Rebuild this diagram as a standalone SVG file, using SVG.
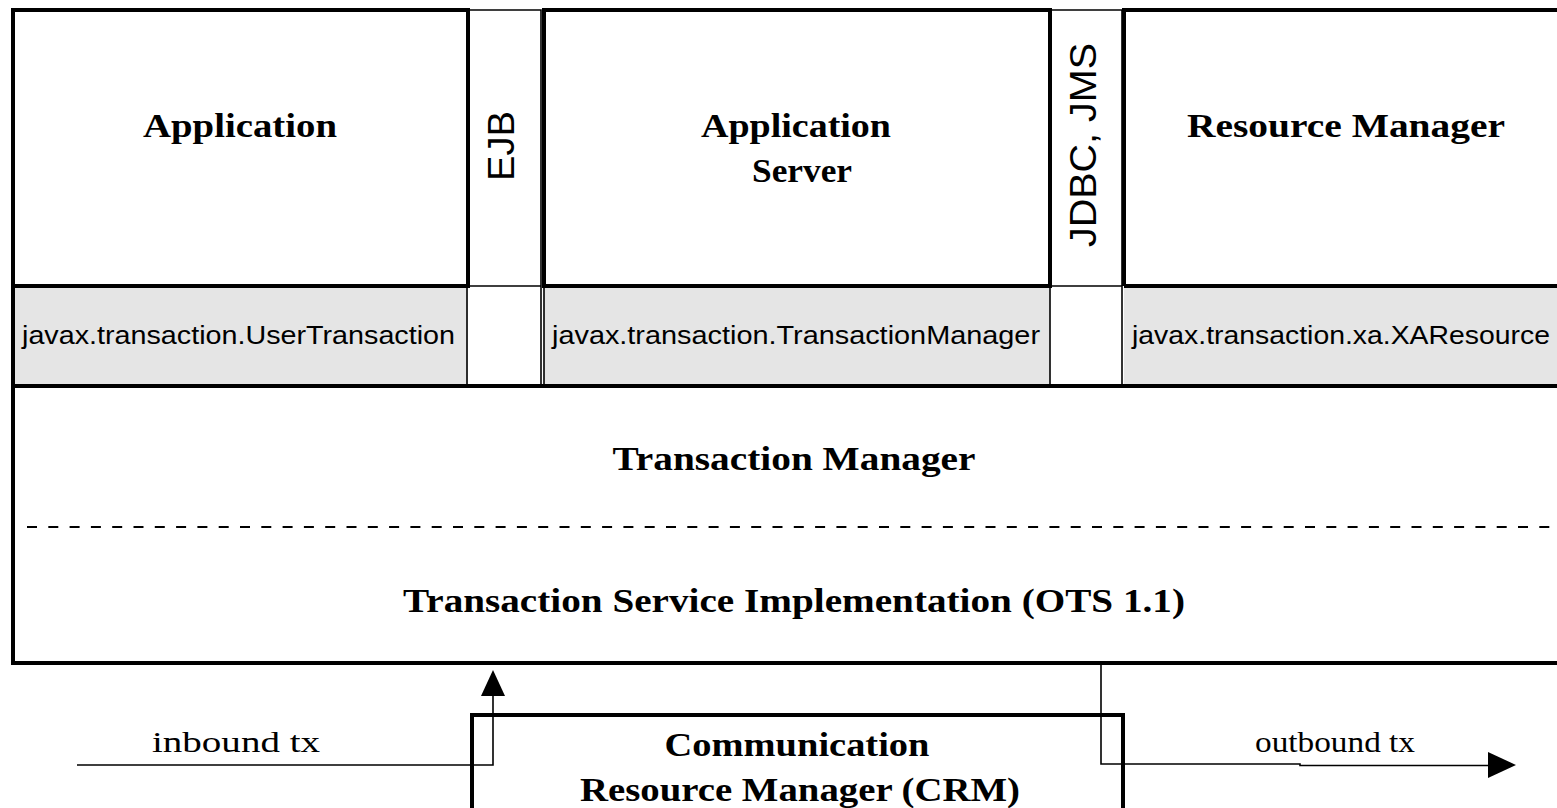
<svg xmlns="http://www.w3.org/2000/svg" width="1557" height="808" viewBox="0 0 1557 808">
<style>
.thick{fill:none;stroke:#000;stroke-width:4}
.thin{fill:none;stroke:#000;stroke-width:1.6}
.gray{fill:#e5e5e5;stroke:none}
.title{font-family:"Liberation Serif",serif;font-weight:bold;font-size:34px;text-anchor:middle;fill:#000}
.label{font-family:"Liberation Serif",serif;font-size:30px;text-anchor:middle;fill:#000}
.api{font-family:"Liberation Sans",sans-serif;font-size:25px;fill:#000}
.vert{font-family:"Liberation Sans",sans-serif;font-size:36px;fill:#000}
</style>
<rect x="0" y="0" width="1557" height="808" fill="#fff"/>

<g id="gray-row">
  <rect class="gray" x="13" y="286" width="455" height="99"/>
  <rect class="gray" x="544" y="286" width="506" height="99"/>
  <rect class="gray" x="1124" y="286" width="440" height="99"/>
</g>

<g id="application">
  <path class="thick" d="M13,10 H468 V286 H13 Z"/>
  <text class="title" x="240" y="137" textLength="194" lengthAdjust="spacingAndGlyphs">Application</text>
</g>

<g id="ejb">
  <path class="thin" d="M468,10 H541 V286 M468,286 H541"/>
  <text class="vert" transform="translate(514,181) rotate(-90)" textLength="70" lengthAdjust="spacingAndGlyphs">EJB</text>
</g>

<g id="application-server">
  <path class="thick" d="M544,10 H1050 V286 H544 Z"/>
  <text class="title" x="796" y="137" textLength="190" lengthAdjust="spacingAndGlyphs">Application</text>
  <text class="title" x="802" y="182" textLength="100" lengthAdjust="spacingAndGlyphs">Server</text>
</g>

<g id="jdbc-jms">
  <path class="thin" d="M1052,10 H1122 V286 M1050,286 H1122"/>
  <text class="vert" transform="translate(1096,247) rotate(-90)" textLength="204" lengthAdjust="spacingAndGlyphs">JDBC, JMS</text>
</g>

<g id="resource-manager">
  <path class="thick" d="M1124,286 V10 H1560 M1124,286 H1560"/>
  <text class="title" x="1346" y="137" textLength="318" lengthAdjust="spacingAndGlyphs">Resource Manager</text>
</g>

<g id="user-transaction">
  <path class="thin" d="M13,286 V385 M467,286 V385"/>
  <path class="thick" d="M13,286 V385"/>
  <text class="api" x="22" y="344" textLength="433" lengthAdjust="spacingAndGlyphs">javax.transaction.UserTransaction</text>
</g>

<g id="ejb-gap">
  <path class="thin" d="M541,286 V385"/>
</g>

<g id="transaction-manager-api">
  <path class="thin" d="M544,286 V385 M1050,286 V385"/>
  <text class="api" x="552" y="344" textLength="488" lengthAdjust="spacingAndGlyphs">javax.transaction.TransactionManager</text>
</g>

<g id="xa-resource">
  <path class="thin" d="M1122,286 V385"/>
  <text class="api" x="1132" y="344" textLength="418" lengthAdjust="spacingAndGlyphs">javax.transaction.xa.XAResource</text>
</g>

<g id="transaction-manager">
  <path class="thick" d="M1560,386 H13 V663 H1560"/>
  <text class="title" x="794" y="470" textLength="363" lengthAdjust="spacingAndGlyphs">Transaction Manager</text>
  <line x1="27" y1="527" x2="1557" y2="527" stroke="#000" stroke-width="2" stroke-dasharray="10 11.3"/>
  <text class="title" x="794" y="612" textLength="782" lengthAdjust="spacingAndGlyphs">Transaction Service Implementation (OTS 1.1)</text>
</g>

<g id="crm">
  <path class="thick" d="M472,812 V715 H1123 V812"/>
  <text class="title" x="797" y="756" textLength="265" lengthAdjust="spacingAndGlyphs">Communication</text>
  <text class="title" x="800" y="801" textLength="440" lengthAdjust="spacingAndGlyphs">Resource Manager (CRM)</text>
</g>

<g id="connectors">
  <path class="thin" d="M77,765 H493 V694"/>
  <polygon points="493,670 481,696 505,696" fill="#000"/>
  <text class="label" x="236" y="752" textLength="168" lengthAdjust="spacingAndGlyphs">inbound tx</text>
  <path class="thin" d="M1101,663 V764 H1300 V765.5 H1492"/>
  <polygon points="1516,765 1488,752 1488,778" fill="#000"/>
  <text class="label" x="1335" y="752" textLength="160" lengthAdjust="spacingAndGlyphs">outbound tx</text>
</g>
</svg>
